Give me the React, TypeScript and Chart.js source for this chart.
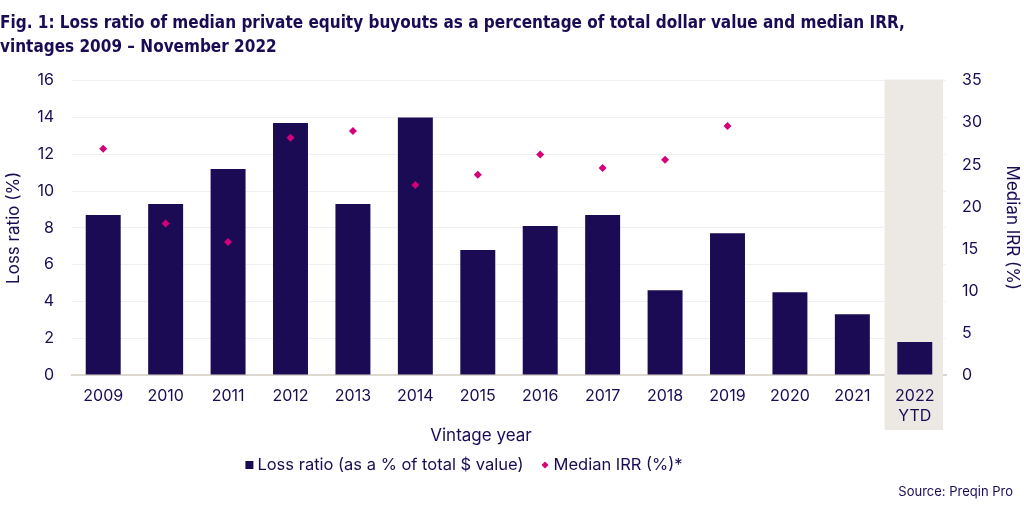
import React, { useEffect, useRef } from 'react';
import { Chart, registerables } from 'chart.js';

Chart.register(...registerables);

const titleLines = [
  'Fig. 1: Loss ratio of median private equity buyouts as a percentage of total dollar value and median IRR,',
  'vintages 2009 – November 2022',
];
const categories: (string | string[])[] = [
  '2009', '2010', '2011', '2012', '2013', '2014', '2015', '2016', '2017', '2018', '2019', '2020', '2021', ['2022', 'YTD'],
];
const lossRatio = [8.7, 9.3, 11.2, 13.7, 9.3, 14.0, 6.8, 8.1, 8.7, 4.6, 7.7, 4.5, 3.3, 1.8];
const medianIRR: (number | null)[] = [26.9, 18.0, 15.8, 28.2, 29.0, 22.6, 23.8, 26.2, 24.6, 25.6, 29.6, null, null, null];
const lossLabel = 'Loss ratio (as a % of total $ value)';
const irrLabel = 'Median IRR (%)*';
const leftTitle = 'Loss ratio (%)';
const rightTitle = 'Median IRR (%)';
const xTitle = 'Vintage year';
const sourceText = 'Source: Preqin Pro';

const NAVY = '#1b0b55';
const MAGENTA = '#d4007a';
const BAND = '#ece9e4';
const GRID = '#f0f0f0';
const AXIS = '#dcd8d0';
const FONT = 'Inter, "Open Sans", sans-serif';
const TITLE_FONT = '"Liberation Sans Narrow", "DejaVu Sans Condensed", Roboto, sans-serif';

const bandPlugin = {
  id: 'ytdBand',
  beforeDatasetsDraw(chart: any) {
    const x = chart.scales.x;
    const area = chart.chartArea;
    const ctx = chart.ctx;
    const i = categories.length - 1;
    const w = x.getPixelForValue(1) - x.getPixelForValue(0);
    const cx = x.getPixelForValue(i);
    const left = cx - w / 2 + 1;
    const right = cx + w / 2 - 3;
    const bottom = area.bottom + 55;
    ctx.save();
    ctx.fillStyle = BAND;
    ctx.fillRect(left, area.top - 1, right - left, bottom - area.top + 1);
    ctx.beginPath();
    ctx.rect(left, area.bottom + 1, right - left, bottom - area.bottom);
    ctx.clip();
    try { x.drawLabels(area); } catch (e) { /* ignore */ }
    ctx.restore();
  },
};

const overlayPlugin = {
  id: 'overlay',
  afterDraw(chart: any) {
    const ctx = chart.ctx;
    const area = chart.chartArea;
    ctx.save();
    ctx.fillStyle = NAVY;
    ctx.textBaseline = 'middle';
    // x axis title
    ctx.font = `17px ${FONT}`;
    ctx.textAlign = 'center';
    ctx.fillText(xTitle, 481, area.bottom + 61);
    // legend
    ctx.font = `16.5px ${FONT}`;
    const w1 = ctx.measureText(lossLabel).width;
    const w2 = ctx.measureText(irrLabel).width;
    const total = 8 + 4 + w1 + 18 + 7 + 5 + w2;
    let lx = 464 - total / 2;
    const ly = area.bottom + 90;
    ctx.fillStyle = NAVY;
    ctx.fillRect(lx, ly - 4, 8, 8);
    lx += 12;
    ctx.textAlign = 'left';
    ctx.fillText(lossLabel, lx, ly);
    lx += w1 + 18;
    ctx.fillStyle = MAGENTA;
    ctx.beginPath();
    ctx.moveTo(lx + 3.5, ly - 3.5);
    ctx.lineTo(lx + 7, ly);
    ctx.lineTo(lx + 3.5, ly + 3.5);
    ctx.lineTo(lx, ly);
    ctx.closePath();
    ctx.fill();
    lx += 12;
    ctx.fillStyle = NAVY;
    ctx.fillText(irrLabel, lx, ly);
    // source
    ctx.font = `13px ${FONT}`;
    ctx.textAlign = 'right';
    ctx.fillText(sourceText, 1013, 492);
    ctx.restore();
  },
};

export default function App() {
  const ref = useRef<HTMLCanvasElement | null>(null);
  useEffect(() => {
    if (!ref.current) return;
    const chart = new Chart(ref.current, {
      type: 'bar',
      data: {
        labels: categories as any,
        datasets: [
          {
            type: 'line' as any,
            label: irrLabel,
            data: medianIRR,
            yAxisID: 'y2',
            showLine: false,
            pointStyle: 'rectRot',
            pointRadius: 4,
            pointBackgroundColor: MAGENTA,
            pointBorderColor: MAGENTA,
            pointBorderWidth: 0,
            backgroundColor: MAGENTA,
            borderColor: MAGENTA,
            order: 0,
          } as any,
          {
            type: 'bar',
            label: lossLabel,
            data: lossRatio,
            yAxisID: 'y',
            backgroundColor: NAVY,
            borderWidth: 0,
            barPercentage: 0.56,
            categoryPercentage: 1,
            order: 1,
          },
        ],
      },
      options: {
        responsive: true,
        maintainAspectRatio: false,
        animation: false,
        layout: { padding: { top: 0, left: 0, right: 0, bottom: 77 } },
        plugins: {
          legend: { display: false },
          tooltip: { enabled: false },
          title: {
            display: true,
            text: titleLines,
            align: 'start',
            color: NAVY,
            font: { family: TITLE_FONT, size: 17, weight: 'bold', lineHeight: 1.4 },
            padding: { top: 12, bottom: 21 },
          },
        },
        scales: {
          x: {
            grid: { display: false, drawTicks: false },
            border: { display: true, color: AXIS, width: 2 },
            ticks: { color: NAVY, font: { family: FONT, size: 16 }, padding: 12, maxRotation: 0, autoSkip: false },
            afterFit: (s: any) => { s.height = 60; },
          },
          y: {
            position: 'left',
            min: 0,
            max: 16,
            ticks: { stepSize: 2, padding: 18, color: NAVY, font: { family: FONT, size: 16 } },
            grid: { color: GRID, drawTicks: false },
            border: { display: false },
            title: { display: true, text: leftTitle, color: NAVY, font: { family: FONT, size: 17 }, padding: { top: 4, bottom: 0 } },
            afterFit: (s: any) => { s.width = 72; },
          },
          y2: {
            position: 'right',
            min: 0,
            max: 35,
            ticks: { stepSize: 5, padding: 16, color: NAVY, font: { family: FONT, size: 16 } },
            grid: { display: false, drawTicks: false },
            border: { display: false },
            title: { display: true, text: rightTitle, color: NAVY, font: { family: FONT, size: 17 }, padding: { top: 2, bottom: 0 } },
            afterFit: (s: any) => { s.width = 78; },
          },
        },
      } as any,
      plugins: [bandPlugin, overlayPlugin],
    });
    return () => chart.destroy();
  }, []);
  return (
    <div style={{ position: 'fixed', left: 0, top: 0, width: 1024, height: 512, background: '#fff' }}>
      <canvas ref={ref} />
    </div>
  );
}
